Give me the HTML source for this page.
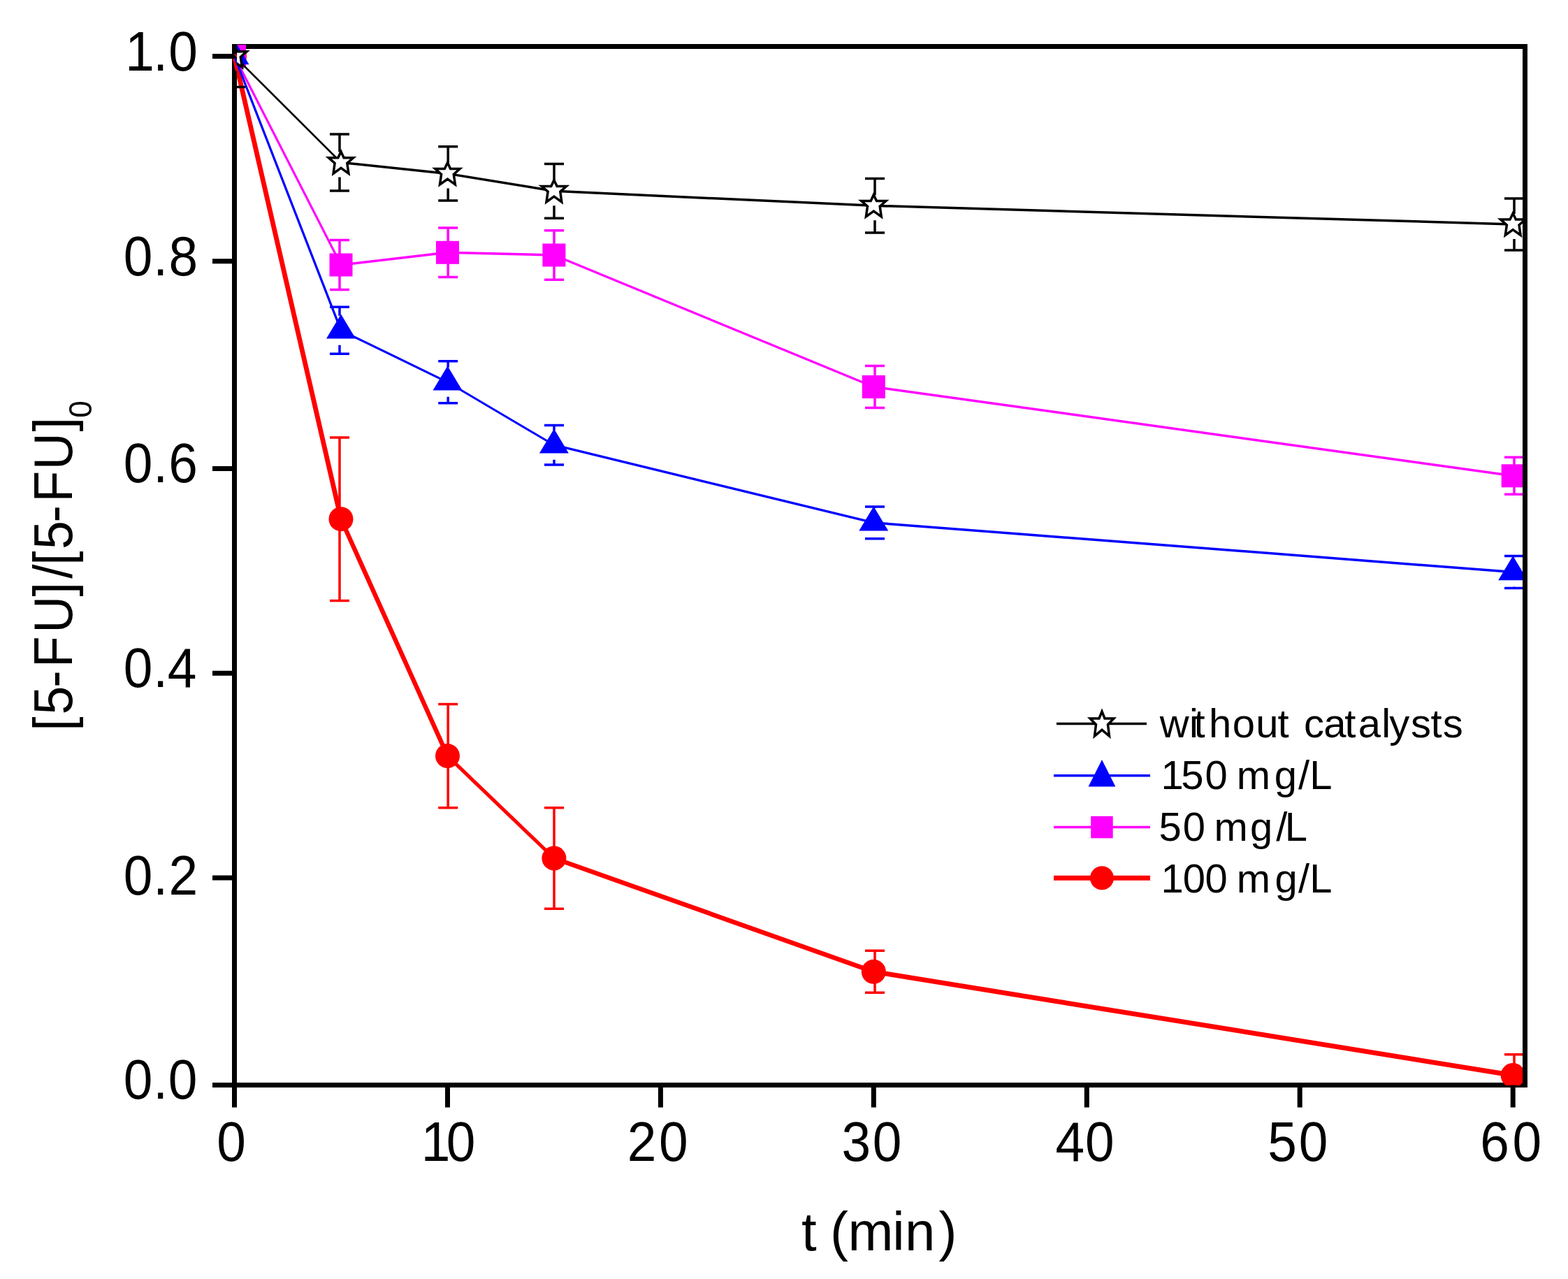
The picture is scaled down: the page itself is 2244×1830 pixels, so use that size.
<!DOCTYPE html>
<html><head><meta charset="utf-8"><title>5-FU degradation</title>
<style>html,body{margin:0;padding:0;background:#fff;overflow:hidden;}svg{display:block;}</style></head>
<body>
<svg width="2244" height="1830" viewBox="0 0 2244 1830" font-family="'Liberation Sans', Arial, sans-serif" fill="#000">
<rect width="2244" height="1830" fill="#fff"/>
<defs><clipPath id="ca"><rect x="332" y="63" width="1847" height="1490"/></clipPath><clipPath id="cb"><rect x="339" y="63" width="1840" height="1490"/></clipPath></defs>
<rect x="335.5" y="66.5" width="1847.0" height="1486.0" fill="none" stroke="#000" stroke-width="7"/>
<g clip-path="url(#ca)">
<line x1="335.5" y1="80.5" x2="488.0" y2="742.7" stroke="#f00" stroke-width="6.82" stroke-linecap="round"/>
<line x1="488.0" y1="742.7" x2="640.5" y2="1081.6" stroke="#f00" stroke-width="6.38" stroke-linecap="round"/>
<line x1="640.5" y1="1081.6" x2="792.9" y2="1228.0" stroke="#f00" stroke-width="5.05" stroke-linecap="round"/>
<line x1="792.9" y1="1228.0" x2="1250.3" y2="1390.3" stroke="#f00" stroke-width="6.60" stroke-linecap="round"/>
<line x1="1250.3" y1="1390.3" x2="2165.2" y2="1538.5" stroke="#f00" stroke-width="6.91" stroke-linecap="round"/>
<path d="M486.0,626.0V742.7M486.0,742.7V859.4M472.0,626.0H500.0M472.0,859.4H500.0M641.2,1007.4V1081.6M641.2,1081.6V1155.8M627.2,1007.4H655.2M627.2,1155.8H655.2M793.0,1155.8V1228.0M793.0,1228.0V1300.2M779.0,1155.8H807.0M779.0,1300.2H807.0M1252.0,1360.3V1390.3M1252.0,1390.3V1420.3M1238.0,1360.3H1266.0M1238.0,1420.3H1266.0M2167.0,1508.8V1538.5M2167.0,1538.5V1568.2M2153.0,1508.8H2181.0M2153.0,1568.2H2181.0" stroke="#f00" stroke-width="3.5" fill="none"/>
</g><g clip-path="url(#cb)">
<circle cx="335.5" cy="80.5" r="17.5" fill="#f00"/>
<circle cx="488.0" cy="742.7" r="17.5" fill="#f00"/>
<circle cx="640.5" cy="1081.6" r="17.5" fill="#f00"/>
<circle cx="792.9" cy="1228.0" r="17.5" fill="#f00"/>
<circle cx="1250.3" cy="1390.3" r="17.5" fill="#f00"/>
<circle cx="2165.2" cy="1538.5" r="17.5" fill="#f00"/>
</g>
<g clip-path="url(#ca)">
<line x1="335.5" y1="80.5" x2="488.0" y2="379.0" stroke="#f0f" stroke-width="3.12" stroke-linecap="round"/>
<line x1="488.0" y1="379.0" x2="640.5" y2="361.3" stroke="#f0f" stroke-width="3.48" stroke-linecap="round"/>
<line x1="640.5" y1="361.3" x2="792.9" y2="365.0" stroke="#f0f" stroke-width="3.50" stroke-linecap="round"/>
<line x1="792.9" y1="365.0" x2="1250.3" y2="553.5" stroke="#f0f" stroke-width="3.24" stroke-linecap="round"/>
<line x1="1250.3" y1="553.5" x2="2165.2" y2="680.8" stroke="#f0f" stroke-width="3.47" stroke-linecap="round"/>
<path d="M486.0,343.6V379.0M486.0,379.0V414.4M472.0,343.6H500.0M472.0,414.4H500.0M641.2,326.0V361.3M641.2,361.3V396.6M627.2,326.0H655.2M627.2,396.6H655.2M793.0,329.8V365.0M793.0,365.0V400.2M779.0,329.8H807.0M779.0,400.2H807.0M1252.0,523.5V553.5M1252.0,553.5V583.5M1238.0,523.5H1266.0M1238.0,583.5H1266.0M2167.0,654.3V680.8M2167.0,680.8V707.3M2153.0,654.3H2181.0M2153.0,707.3H2181.0" stroke="#f0f" stroke-width="3.5" fill="none"/>
</g><g clip-path="url(#cb)">
<rect x="319.0" y="64.0" width="33" height="33" fill="#f0f"/>
<rect x="471.5" y="362.5" width="33" height="33" fill="#f0f"/>
<rect x="624.0" y="344.8" width="33" height="33" fill="#f0f"/>
<rect x="776.4" y="348.5" width="33" height="33" fill="#f0f"/>
<rect x="1233.8" y="537.0" width="33" height="33" fill="#f0f"/>
<rect x="2148.7" y="664.3" width="33" height="33" fill="#f0f"/>
</g>
<g clip-path="url(#ca)">
<line x1="335.5" y1="80.5" x2="488.0" y2="472.7" stroke="#00f" stroke-width="3.26" stroke-linecap="round"/>
<line x1="488.0" y1="472.7" x2="640.5" y2="546.8" stroke="#00f" stroke-width="3.15" stroke-linecap="round"/>
<line x1="640.5" y1="546.8" x2="792.9" y2="636.7" stroke="#00f" stroke-width="3.01" stroke-linecap="round"/>
<line x1="792.9" y1="636.7" x2="1250.3" y2="747.9" stroke="#00f" stroke-width="3.40" stroke-linecap="round"/>
<line x1="1250.3" y1="747.9" x2="2165.2" y2="818.5" stroke="#00f" stroke-width="3.49" stroke-linecap="round"/>
<path d="M486.0,439.2V451.7M486.0,493.7V506.2M472.0,439.2H500.0M472.0,506.2H500.0M641.2,516.8V525.8M641.2,567.8V576.8M627.2,516.8H655.2M627.2,576.8H655.2M793.0,608.5V615.7M793.0,657.7V664.9M779.0,608.5H807.0M779.0,664.9H807.0M1252.0,725.0V726.9M1252.0,768.9V770.8M1238.0,725.0H1266.0M1238.0,770.8H1266.0M2167.0,795.5V797.5M2167.0,839.5V841.5M2153.0,795.5H2181.0M2153.0,841.5H2181.0" stroke="#00f" stroke-width="3.5" fill="none"/>
</g><g clip-path="url(#cb)">
<polygon points="335.5,57.2 356.5,92.2 314.5,92.2" fill="#00f"/>
<polygon points="488.0,449.4 509.0,484.4 467.0,484.4" fill="#00f"/>
<polygon points="640.5,523.5 661.5,558.5 619.5,558.5" fill="#00f"/>
<polygon points="792.9,613.4 813.9,648.4 771.9,648.4" fill="#00f"/>
<polygon points="1250.3,724.6 1271.3,759.6 1229.3,759.6" fill="#00f"/>
<polygon points="2165.2,795.2 2186.2,830.2 2144.2,830.2" fill="#00f"/>
</g>
<g clip-path="url(#ca)">
<line x1="335.5" y1="80.5" x2="488.0" y2="232.5" stroke="#000" stroke-width="2.48" stroke-linecap="round"/>
<line x1="488.0" y1="232.5" x2="640.5" y2="248.4" stroke="#000" stroke-width="3.48" stroke-linecap="round"/>
<line x1="640.5" y1="248.4" x2="792.9" y2="273.3" stroke="#000" stroke-width="3.45" stroke-linecap="round"/>
<line x1="792.9" y1="273.3" x2="1250.3" y2="294.3" stroke="#000" stroke-width="3.50" stroke-linecap="round"/>
<line x1="1250.3" y1="294.3" x2="2165.2" y2="320.9" stroke="#000" stroke-width="3.50" stroke-linecap="round"/>
<path d="M337.0,36.5V65.5M337.0,101.5V124.5M323.0,36.5H351.0M323.0,124.5H351.0M486.0,192.0V217.5M486.0,253.5V273.0M472.0,192.0H500.0M472.0,273.0H500.0M641.2,209.7V233.4M641.2,269.4V287.1M627.2,209.7H655.2M627.2,287.1H655.2M793.0,234.4V258.3M793.0,294.3V312.2M779.0,234.4H807.0M779.0,312.2H807.0M1252.0,255.5V279.3M1252.0,315.3V333.1M1238.0,255.5H1266.0M1238.0,333.1H1266.0M2167.0,283.9V305.9M2167.0,341.9V357.9M2153.0,283.9H2181.0M2153.0,357.9H2181.0" stroke="#000" stroke-width="3.5" fill="none"/>
</g><g clip-path="url(#cb)">
<polygon points="335.5,64.9 339.7,73.7 353.2,73.7 344.3,81.5 346.4,96.1 335.5,88.3 324.6,96.1 326.7,81.5 317.8,73.7 331.3,73.7" fill="#fff" stroke="#000" stroke-width="3.5" stroke-linejoin="miter" stroke-miterlimit="3"/>
<polygon points="488.0,216.9 492.1,225.7 505.7,225.7 496.8,233.5 498.9,248.1 488.0,240.3 477.1,248.1 479.1,233.5 470.3,225.7 483.8,225.7" fill="#fff" stroke="#000" stroke-width="3.5" stroke-linejoin="miter" stroke-miterlimit="3"/>
<polygon points="640.5,232.8 644.6,241.6 658.1,241.6 649.3,249.4 651.4,264.0 640.5,256.2 629.5,264.0 631.6,249.4 622.8,241.6 636.3,241.6" fill="#fff" stroke="#000" stroke-width="3.5" stroke-linejoin="miter" stroke-miterlimit="3"/>
<polygon points="792.9,257.7 797.1,266.5 810.6,266.5 801.8,274.3 803.8,288.9 792.9,281.1 782.0,288.9 784.1,274.3 775.2,266.5 788.8,266.5" fill="#fff" stroke="#000" stroke-width="3.5" stroke-linejoin="miter" stroke-miterlimit="3"/>
<polygon points="1250.3,278.7 1254.5,287.5 1268.0,287.5 1259.2,295.3 1261.3,309.9 1250.3,302.1 1239.4,309.9 1241.5,295.3 1232.7,287.5 1246.2,287.5" fill="#fff" stroke="#000" stroke-width="3.5" stroke-linejoin="miter" stroke-miterlimit="3"/>
<polygon points="2165.2,305.3 2169.4,314.1 2182.9,314.1 2174.0,321.9 2176.1,336.5 2165.2,328.7 2154.3,336.5 2156.4,321.9 2147.5,314.1 2161.0,314.1" fill="#fff" stroke="#000" stroke-width="3.5" stroke-linejoin="miter" stroke-miterlimit="3"/>
</g>
<path d="M304,80.5H335.5M304,373.8H335.5M304,670.5H335.5M304,963.3H335.5M304,1256H335.5M304,1552.5H335.5M335.5,1552.5V1584.5M640.5,1552.5V1584.5M945.4,1552.5V1584.5M1250.3,1552.5V1584.5M1555.3,1552.5V1584.5M1860.2,1552.5V1584.5M2165.2,1552.5V1584.5" stroke="#000" stroke-width="7" fill="none"/>
<text transform="translate(0.00,100.70) scale(0.96,1.03)" x="186.83 228.50 251.33" y="0" font-size="78">1.0</text>
<text transform="translate(0.00,393.60) scale(0.96,1.03)" x="184.14 228.50 251.47" y="0" font-size="78">0.8</text>
<text transform="translate(0.00,689.80) scale(0.96,1.03)" x="184.14 228.50 251.19" y="0" font-size="78">0.6</text>
<text transform="translate(0.00,982.80) scale(0.96,1.03)" x="184.14 228.50 249.74" y="0" font-size="78">0.4</text>
<text transform="translate(0.00,1279.50) scale(0.96,1.03)" x="184.14 228.50 251.69" y="0" font-size="78">0.2</text>
<text transform="translate(0.00,1572.20) scale(0.96,1.03)" x="184.14 228.50 250.81" y="0" font-size="78">0.0</text>
<text transform="translate(0.00,1660.60) scale(0.96,1.03)" x="323.10" y="0" font-size="78">0</text>
<text transform="translate(0.00,1660.60) scale(0.96,1.03)" x="627.87 665.29" y="0" font-size="78">10</text>
<text transform="translate(0.00,1660.60) scale(0.96,1.03)" x="935.24 982.27" y="0" font-size="78">20</text>
<text transform="translate(0.00,1660.60) scale(0.96,1.03)" x="1254.74 1300.70" y="0" font-size="78">30</text>
<text transform="translate(0.00,1660.60) scale(0.96,1.03)" x="1573.42 1617.68" y="0" font-size="78">40</text>
<text transform="translate(0.00,1660.60) scale(0.96,1.03)" x="1889.90 1936.22" y="0" font-size="78">50</text>
<text transform="translate(0.00,1660.60) scale(0.96,1.03)" x="2206.46 2254.77" y="0" font-size="78">60</text>
<text transform="translate(0.00,1788.80)" x="1147.12 1168.79 1188.02 1213.42 1277.18 1295.02 1343.60" y="0" font-size="78">t (min)</text>
<text transform="translate(102.7,1040.5) rotate(-90) scale(0.94,1)" x="-5.56 19.22 60.26 90.84 143.34 199.07 226.38 246.57 270.81 311.64 342.43 391.64 449.92" y="0" font-size="78">[5-FU]/[5-FU]<tspan x="471.04" y="28.5" font-size="47">0</tspan></text>
<line x1="1512" y1="1035.5" x2="1641" y2="1035.5" stroke="#000" stroke-width="3.5"/>
<polygon points="1577.0,1018.0 1581.0,1027.9 1594.0,1027.9 1585.5,1036.7 1587.5,1053.0 1577.0,1044.3 1566.5,1053.0 1568.5,1036.7 1560.0,1027.9 1573.0,1027.9" fill="#fff" stroke="#000" stroke-width="3.5" stroke-linejoin="miter" stroke-miterlimit="3"/>
<line x1="1508" y1="1109.8" x2="1646" y2="1109.8" stroke="#00f" stroke-width="3.5"/>
<polygon points="1577.0,1086.9 1596.4,1125.5 1557.6,1125.5" fill="#00f"/>
<line x1="1508" y1="1183.5" x2="1646" y2="1183.5" stroke="#f0f" stroke-width="3.5"/>
<rect x="1561.2" y="1167.8" width="31.5" height="31.5" fill="#f0f"/>
<line x1="1508" y1="1256.3" x2="1646" y2="1256.3" stroke="#f00" stroke-width="7"/>
<circle cx="1577.0" cy="1256.3" r="17" fill="#f00"/>
<text transform="translate(0.00,1054.70)" x="1659.78 1702.12 1708.52 1729.98 1763.66 1797.23 1828.42 1844.54 1866.04 1894.14 1924.32 1943.74 1977.29 1988.36 2018.99 2047.62 2064.69" y="0" font-size="58">without catalysts</text>
<text transform="translate(0.00,1128.90)" x="1661.39 1690.18 1724.43 1756.69 1769.85 1823.86 1858.00 1874.14" y="0" font-size="58">150 mg/L</text>
<text transform="translate(0.00,1202.80)" x="1658.48 1692.73 1724.99 1737.45 1788.96 1826.30 1838.64" y="0" font-size="58">50 mg/L</text>
<text transform="translate(0.00,1277.00)" x="1661.39 1692.73 1724.43 1756.69 1769.85 1824.46 1858.00 1874.14" y="0" font-size="58">100 mg/L</text>
</svg>
</body></html>
